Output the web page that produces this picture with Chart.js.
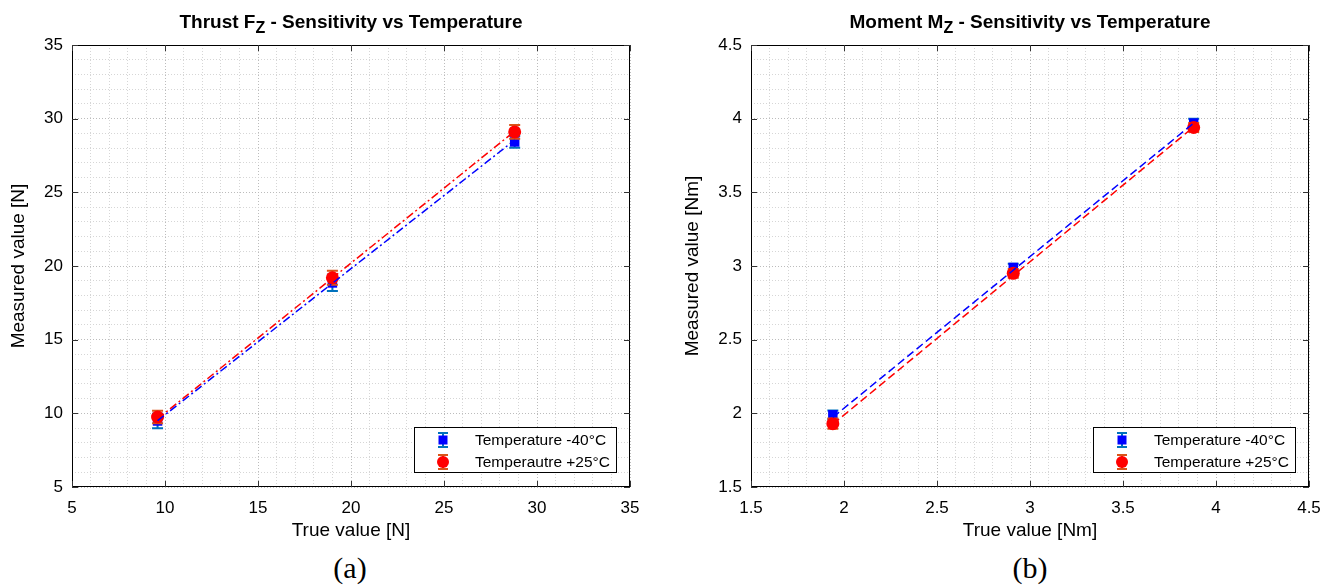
<!DOCTYPE html>
<html>
<head>
<meta charset="utf-8">
<title>Sensitivity vs Temperature</title>
<script src="https://cdn.jsdelivr.net/npm/chart.js@4.4.0/dist/chart.umd.min.js"></script>
<style>
    body {
        margin: 0;
        background: #ffffff;
        width: 1322px;
        height: 587px;
        overflow: hidden;
        position: relative;
        font-family: "Liberation Sans", Arial, sans-serif;
    }
    .panel { position: absolute; top: 0; height: 545px; }
    #panelA { left: 0; width: 660px; }
    #panelB { left: 660px; width: 662px; }
    .caption {
        position: absolute;
        top: 551px;
        width: 100px;
        text-align: center;
        font-family: "Liberation Serif", "DejaVu Serif", serif;
        font-size: 30px;
        color: #000;
    }
</style>
</head>
<body>
<div class="panel" id="panelA"><canvas id="chartA"></canvas></div>
<div class="panel" id="panelB"><canvas id="chartB"></canvas></div>
<div class="caption" style="left:300px">(a)</div>
<div class="caption" style="left:980px">(b)</div>

<script>
// Thrust Fz - panel (a)
const fzTrue = [9.6, 19.0, 28.8];
const fzCold = [9.48, 18.85, 28.42];
const fzColdErr = [0.5, 0.55, 0.4];
const fzWarm = [9.75, 19.2, 29.1];
const fzWarmErr = [0.43, 0.47, 0.47];
const fzColdFit = [9.5, 28.55];   // linear fit at first / last true value
const fzWarmFit = [9.62, 29.15];
const fzTicks = [5, 10, 15, 20, 25, 30, 35];

// Moment Mz - panel (b)
const mzTrue = [1.94, 2.91, 3.88];
const mzCold = [1.99, 2.99, 3.97];
const mzColdErr = [0.03, 0.025, 0.03];
const mzWarm = [1.93, 2.95, 3.94];
const mzWarmErr = [0.035, 0.03, 0.03];
const mzColdFit = [1.973, 3.97];
const mzWarmFit = [1.926, 3.944];
const mzTicks = [1.5, 2, 2.5, 3, 3.5, 4, 4.5];

const legendA = ['Temperature -40°C', 'Temperautre +25°C'];
const legendB = ['Temperature -40°C', 'Temperature +25°C'];

const FONT = '"Liberation Sans", Arial, sans-serif';
const BLUE = '#0000ff';
const RED = '#ff0000';
const BLUE_ERR = '#0072bd';
const RED_ERR = '#d95319';

function isMajor(value, ticks) {
    return ticks.some(t => Math.abs(t - value) < 1e-6);
}

function points(xs, ys) {
    return xs.map((x, i) => ({ x: x, y: ys[i] }));
}

// error bars are drawn just before the marker dataset so markers sit on top
const errorBarPlugin = {
    id: 'errorBars',
    beforeDatasetDraw(chart, args) {
        const ds = chart.data.datasets[args.index];
        if (!ds.errors) return;
        const ctx = chart.ctx;
        const xs = chart.scales.x;
        const ys = chart.scales.y;
        ctx.save();
        ctx.strokeStyle = ds.errorColor;
        ctx.lineWidth = 2;
        ds.data.forEach((p, i) => {
            const px = xs.getPixelForValue(p.x);
            const top = ys.getPixelForValue(p.y + ds.errors[i]);
            const bot = ys.getPixelForValue(p.y - ds.errors[i]);
            ctx.beginPath();
            ctx.moveTo(px, top); ctx.lineTo(px, bot);
            ctx.moveTo(px - 5.5, top); ctx.lineTo(px + 5.5, top);
            ctx.moveTo(px - 5.5, bot); ctx.lineTo(px + 5.5, bot);
            ctx.stroke();
        });
        ctx.restore();
    }
};

// axes box with inward major ticks, panel title and legend
const framePlugin = {
    id: 'frame',
    afterDatasetsDraw(chart) {
        const ctx = chart.ctx;
        const a = chart.chartArea;
        const opts = chart.options.plugins.frame;
        ctx.save();
        ctx.strokeStyle = '#000';
        ctx.lineWidth = 1;
        ctx.strokeRect(a.left + 0.5, a.top + 0.5, a.right - a.left - 1, a.bottom - a.top - 1);
        ctx.strokeStyle = '#333';
        ctx.beginPath();
        opts.ticks.forEach(v => {
            const px = Math.round(chart.scales.x.getPixelForValue(v)) + 0.5;
            const py = Math.round(chart.scales.y.getPixelForValue(v)) + 0.5;
            ctx.moveTo(px, a.bottom); ctx.lineTo(px, a.bottom - 6);
            ctx.moveTo(px, a.top); ctx.lineTo(px, a.top + 6);
            ctx.moveTo(a.left, py); ctx.lineTo(a.left + 6, py);
            ctx.moveTo(a.right, py); ctx.lineTo(a.right - 6, py);
        });
        ctx.stroke();
        ctx.restore();
    },
    afterDraw(chart) {
        const ctx = chart.ctx;
        const a = chart.chartArea;
        const opts = chart.options.plugins.frame;

        // title with subscript
        ctx.save();
        ctx.fillStyle = '#000';
        ctx.textBaseline = 'alphabetic';
        const mainFont = 'bold 19px ' + FONT;
        const subFont = 'bold 16px ' + FONT;
        ctx.font = mainFont;
        const w1 = ctx.measureText(opts.title[0]).width;
        const w3 = ctx.measureText(opts.title[2]).width;
        ctx.font = subFont;
        const w2 = ctx.measureText(opts.title[1]).width;
        const x = (a.left + a.right) / 2 - (w1 + w2 + w3) / 2;
        const base = 28;
        ctx.font = mainFont;
        ctx.fillText(opts.title[0], x, base);
        ctx.font = subFont;
        ctx.fillText(opts.title[1], x + w1, base + 5);
        ctx.font = mainFont;
        ctx.fillText(opts.title[2], x + w1 + w2, base);

        // legend
        const lw = 202, lh = 45;
        const lx = a.right - 14 - lw;
        const ly = a.bottom - 15 - lh;
        ctx.fillStyle = '#fff';
        ctx.fillRect(lx, ly, lw, lh);
        ctx.strokeStyle = '#000';
        ctx.lineWidth = 1;
        ctx.strokeRect(lx + 0.5, ly + 0.5, lw, lh);
        ctx.font = '15.5px ' + FONT;
        ctx.textBaseline = 'middle';
        const rows = [
            { y: ly + 13, err: BLUE_ERR, fill: BLUE, shape: 'rect' },
            { y: ly + 35, err: RED_ERR, fill: RED, shape: 'circle' }
        ];
        rows.forEach((r, i) => {
            const mx = lx + 29;
            ctx.strokeStyle = r.err;
            ctx.lineWidth = 2;
            ctx.beginPath();
            ctx.moveTo(mx, r.y - 7); ctx.lineTo(mx, r.y + 7);
            ctx.moveTo(mx - 5, r.y - 7); ctx.lineTo(mx + 5, r.y - 7);
            ctx.moveTo(mx - 5, r.y + 7); ctx.lineTo(mx + 5, r.y + 7);
            ctx.stroke();
            ctx.fillStyle = r.fill;
            if (r.shape === 'rect') {
                ctx.fillRect(mx - 4.5, r.y - 4.5, 9, 9);
            } else {
                ctx.beginPath();
                ctx.arc(mx, r.y, 6, 0, Math.PI * 2);
                ctx.fill();
            }
            ctx.fillStyle = '#000';
            ctx.fillText(opts.legend[i], lx + 61, r.y + 1);
        });
        ctx.restore();
    }
};

function createPanel(canvasId, p) {
    const ctx = document.getElementById(canvasId).getContext('2d');
    const gridColor = c => isMajor(c.tick.value, p.ticks) ? '#bcbcbc' : '#d6d6d6';

    return new Chart(ctx, {
        type: 'scatter',
        data: {
            datasets: [
                {
                    label: 'fit cold',
                    data: points([p.x[0], p.x[2]], p.coldFit),
                    showLine: true,
                    borderColor: BLUE,
                    borderWidth: 1.5,
                    borderDash: p.dash,
                    pointRadius: 0,
                    order: 0
                },
                {
                    label: 'fit warm',
                    data: points([p.x[0], p.x[2]], p.warmFit),
                    showLine: true,
                    borderColor: RED,
                    borderWidth: 1.5,
                    borderDash: p.dash,
                    pointRadius: 0,
                    order: 0
                },
                {
                    label: p.legend[1],
                    data: points(p.x, p.warm),
                    errors: p.warmErr,
                    errorColor: RED_ERR,
                    pointStyle: 'circle',
                    pointRadius: 6.5,
                    backgroundColor: RED,
                    borderColor: RED,
                    borderWidth: 0,
                    order: 1
                },
                {
                    label: p.legend[0],
                    data: points(p.x, p.cold),
                    errors: p.coldErr,
                    errorColor: BLUE_ERR,
                    pointStyle: 'rect',
                    pointRadius: 6.7,
                    backgroundColor: BLUE,
                    borderColor: BLUE,
                    borderWidth: 0,
                    order: 2
                }
            ]
        },
        options: {
            responsive: true,
            maintainAspectRatio: false,
            animation: false,
            layout: { padding: { left: 0, right: p.padRight, top: 45, bottom: 0 } },
            plugins: {
                legend: { display: false },
                tooltip: { enabled: false },
                frame: { title: p.title, legend: p.legend, ticks: p.ticks }
            },
            scales: {
                x: {
                    type: 'linear',
                    min: p.ticks[0],
                    max: p.ticks[p.ticks.length - 1],
                    afterBuildTicks: s => { s.ticks = p.grid.map(v => ({ value: v })); },
                    afterFit: s => {
                        s.height = 58;
                        s.paddingLeft = 0;
                        s.paddingRight = 0;
                    },
                    grid: { color: gridColor, drawTicks: false, lineWidth: 1 },
                    border: { display: false, dash: [1, 2] },
                    ticks: {
                        autoSkip: false,
                        maxRotation: 0,
                        padding: 11,
                        color: '#000',
                        font: { family: FONT, size: 17 },
                        callback: v => isMajor(v, p.ticks) ? String(Math.round(v * 10) / 10) : ''
                    },
                    title: {
                        display: true,
                        text: p.xTitle,
                        color: '#000',
                        font: { family: FONT, size: 19 },
                        padding: { top: 0, bottom: 3 }
                    }
                },
                y: {
                    type: 'linear',
                    min: p.ticks[0],
                    max: p.ticks[p.ticks.length - 1],
                    afterBuildTicks: s => { s.ticks = p.grid.map(v => ({ value: v })); },
                    afterFit: s => {
                        s.width = p.yWidth;
                        s.paddingTop = 0;
                        s.paddingBottom = 0;
                    },
                    grid: { color: gridColor, drawTicks: false, lineWidth: 1 },
                    border: { display: false, dash: [1, 2] },
                    ticks: {
                        autoSkip: false,
                        padding: 9,
                        color: '#000',
                        font: { family: FONT, size: 17 },
                        callback: v => isMajor(v, p.ticks) ? String(Math.round(v * 10) / 10) : ''
                    },
                    title: {
                        display: true,
                        text: p.yTitle,
                        color: '#000',
                        font: { family: FONT, size: 19 },
                        padding: { top: p.yTitlePad, bottom: 0 }
                    }
                }
            }
        },
        plugins: [errorBarPlugin, framePlugin]
    });
}

// minor grid every 1 N / every 0.1 Nm
const fzGrid = [];
for (let i = 5; i <= 35; i++) fzGrid.push(i);
const mzGrid = [];
for (let i = 15; i <= 45; i++) mzGrid.push(i / 10);

createPanel('chartA', {
    x: fzTrue, cold: fzCold, coldErr: fzColdErr, warm: fzWarm, warmErr: fzWarmErr,
    coldFit: fzColdFit, warmFit: fzWarmFit,
    ticks: fzTicks, grid: fzGrid,
    dash: [8, 3, 2, 3],
    title: ['Thrust F', 'Z', ' - Sensitivity vs Temperature'],
    legend: legendA,
    xTitle: 'True value [N]',
    yTitle: 'Measured value [N]',
    yWidth: 72, yTitlePad: 7, padRight: 30
});

createPanel('chartB', {
    x: mzTrue, cold: mzCold, coldErr: mzColdErr, warm: mzWarm, warmErr: mzWarmErr,
    coldFit: mzColdFit, warmFit: mzWarmFit,
    ticks: mzTicks, grid: mzGrid,
    dash: [8, 4],
    title: ['Moment M', 'Z', ' - Sensitivity vs Temperature'],
    legend: legendB,
    xTitle: 'True value [Nm]',
    yTitle: 'Measured value [Nm]',
    yWidth: 91, yTitlePad: 21, padRight: 13
});
</script>
</body>
</html>
